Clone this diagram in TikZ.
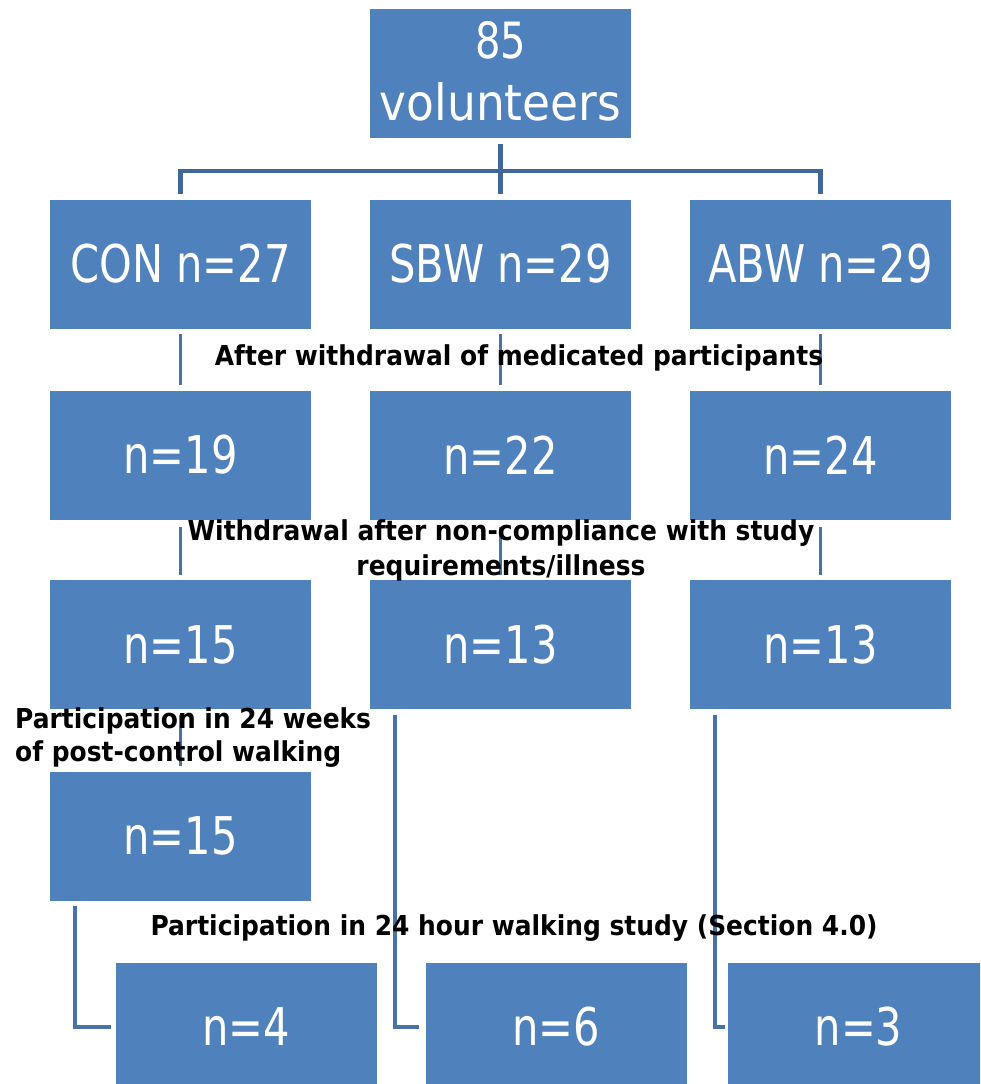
\documentclass[tikz,border=0pt]{standalone}
\usepackage{fontspec}
\newfontfamily\boxfont[FakeStretch=0.8]{DejaVu Sans}
\newfontfamily\topfont[FakeStretch=0.91]{DejaVu Sans}
\newfontfamily\lblfont[FakeStretch=0.91]{DejaVu Sans}
\usetikzlibrary{calc}
\definecolor{boxblue}{RGB}{79,129,189}
\definecolor{lineblue}{RGB}{62,104,152}

\begin{document}
\begin{tikzpicture}
 [x=1pt,y=1pt,
box/.style={rectangle,fill=boxblue,minimum width=261pt,minimum height=129pt,
inner sep=0pt,text=white,align=center,font=\boxfont\fontsize{52}{62}\selectfont},
tree/.style={draw=lineblue,line width=4.5pt},
link/.style={draw=boxblue!88!black,line width=3.8pt},
lbl/.style={inner sep=0pt,font=\lblfont\bfseries\fontsize{27.4}{35}\selectfont}]
\clip (0,0) rectangle (980,-1084);
\fill[white] (0,0) rectangle (980,-1084);

\node (top) at (500.5,-73) [box,text depth=4pt,font=\topfont\fontsize{50}{62}\selectfont] {{\boxfont 85}\\volunteers};

\node (con) at (180.5,-264) [box] {CON n=27};
\node (sbw) at (500.5,-264) [box] {SBW n=29};
\node (abw) at (820.5,-264) [box] {ABW n=29};

\node (conb) at (180.5,-455) [box] {n=19};
\node (sbwb) at (500.5,-455) [box] {n=22};
\node (abwb) at (820.5,-455) [box] {n=24};

\node (conc) at (180.5,-644.5) [box] {n=15};
\node (sbwc) at (500.5,-644.5) [box] {n=13};
\node (abwc) at (820.5,-644.5) [box] {n=13};

\node (cond) at (180.5,-836) [box] {n=15};

\node (cone) at (246,-1027) [box] {n=4};
\node (sbwe) at (556,-1027) [box] {n=6};
\node (abwe) at (858.5,-1027) [box] {n=3};

\coordinate (split) at (500.5,-171);
\draw[tree,shorten <=6pt] (top) -- (split);
\draw[tree,shorten >=5pt] (split) -- (sbw);
\draw[tree,shorten <=5pt,shorten >=5pt] (con) |- (split) -| (abw);

\draw[link,shorten <=5pt,shorten >=5pt] (con) -- (conb);
\draw[link,shorten <=5pt,shorten >=5pt] (sbw) -- (sbwb);
\draw[link,shorten <=5pt,shorten >=5pt] (abw) -- (abwb);

\draw[link,shorten <=7pt,shorten >=5pt] (conb) -- (conc);
\draw[link,shorten <=7pt,shorten >=5pt] (sbwb) -- (sbwc);
\draw[link,shorten <=7pt,shorten >=5pt] (abwb) -- (abwc);

\draw[link,shorten <=6pt,shorten >=5pt] (conc) -- (cond);

\draw[link] ([xshift=25pt,yshift=-5pt]cond.south west) |- ([xshift=-4pt]cone.west);
\draw[link] ([xshift=25pt,yshift=-6pt]sbwc.south west) |- ([xshift=-6pt]sbwe.west);
\draw[link] ([xshift=25pt,yshift=-6pt]abwc.south west) |- ([xshift=-3pt]abwe.west);

\node (medic) at (519,-365) [lbl,anchor=base] {After withdrawal of medicated participants};
\node (illness) at (501,-550) [lbl,align=center] {Withdrawal after non-compliance with study\\requirements/illness};
\node (postcon) at (15,-738) [lbl,anchor=west,align=left,font=\lblfont\bfseries\fontsize{27.4}{33}\selectfont] {Participation in 24 weeks\\of post-control walking};
\node (hourstudy) at (514,-935) [lbl,anchor=base] {Participation in 24 hour walking study (Section 4.0)};
\end{tikzpicture}
\end{document}
